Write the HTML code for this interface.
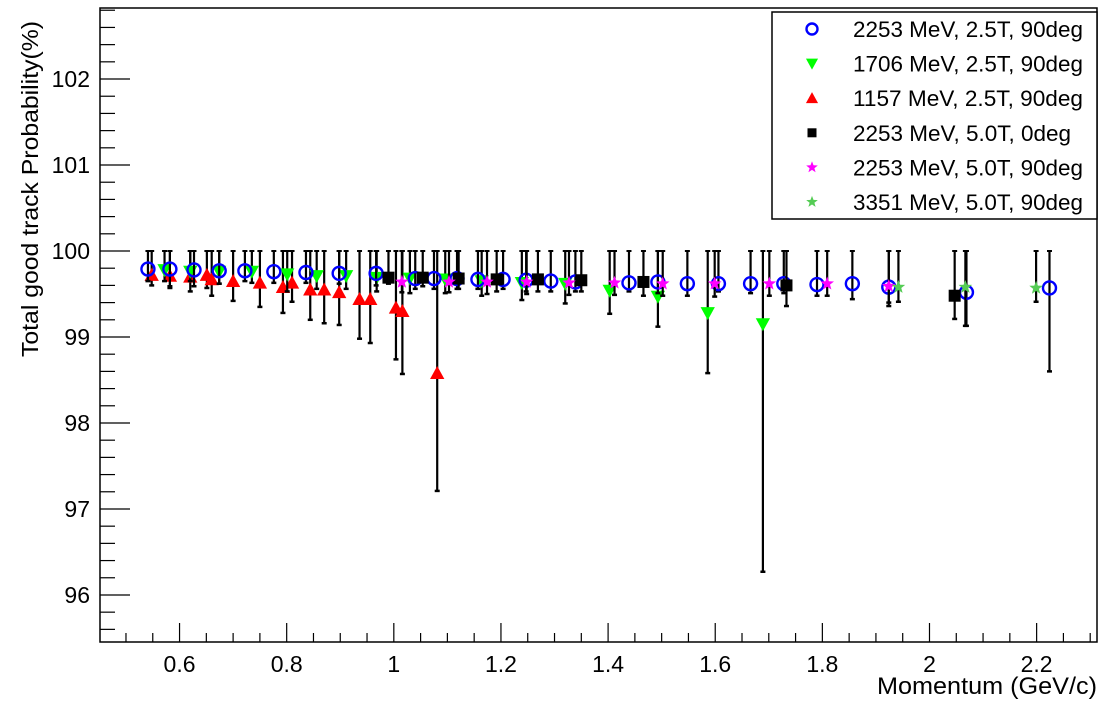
<!DOCTYPE html>
<html><head><meta charset="utf-8"><style>
html,body{margin:0;padding:0;background:#fff;}
svg{display:block;font-family:"Liberation Sans",Arial,sans-serif;}
</style></head><body>
<svg id="chart" width="1113" height="707" viewBox="0 0 1113 707">
<rect x="0" y="0" width="1113" height="707" fill="#fff"/>
<g id="axes"></g>
<g id="marks"></g>
<g id="legend"></g>
<text x="1097" y="694" text-anchor="end" font-size="24" textLength="220" lengthAdjust="spacingAndGlyphs">Momentum (GeV/c)</text>
<text transform="translate(38,189) rotate(-90)" text-anchor="middle" font-size="23" textLength="336" lengthAdjust="spacingAndGlyphs">Total good track Probability(%)</text>
</svg>
<script>
// tick labels
const xTicks = [0.6, 0.8, 1.0, 1.2, 1.4, 1.6, 1.8, 2.0, 2.2];
const xTickLabels = ["0.6","0.8","1","1.2","1.4","1.6","1.8","2","2.2"];
const yTicks = [96, 97, 98, 99, 100, 101, 102];
const yTickLabels = ["96","97","98","99","100","101","102"];
// series: [x, y, lowerErrorEnd]; upper error end is 100 for all
const blueCircles = [
[0.541,99.79,99.65],[0.582,99.79,99.59],[0.627,99.78,99.59],[0.674,99.77,99.62],[0.722,99.77,99.65],
[0.776,99.76,99.63],[0.836,99.75,99.63],[0.898,99.74,99.62],[0.967,99.74,99.60],[1.040,99.68,99.56],
[1.075,99.68,99.56],[1.118,99.68,99.56],[1.157,99.67,99.56],[1.204,99.67,99.56],[1.247,99.66,99.53],
[1.293,99.65,99.53],[1.339,99.64,99.53],[1.439,99.63,99.53],[1.493,99.64,99.51],[1.548,99.62,99.48],
[1.606,99.62,99.53],[1.666,99.62,99.51],[1.728,99.62,99.51],[1.790,99.61,99.48],[1.856,99.62,99.44],
[1.924,99.58,99.36],[2.069,99.52,99.13],[2.224,99.57,98.60]];
const greenTriangles = [
[0.572,99.78,99.65],[0.620,99.76,99.65],[0.674,99.76,99.62],[0.735,99.76,99.63],[0.801,99.73,99.53],
[0.856,99.71,99.56],[0.911,99.71,99.56],[0.968,99.69,99.53],[1.030,99.68,99.51],[1.096,99.67,99.51],
[1.164,99.65,99.48],[1.239,99.63,99.43],[1.320,99.62,99.39],[1.403,99.54,99.27],[1.493,99.47,99.12],
[1.586,99.28,98.58],[1.689,99.15,96.27]];
const redTriangles = [
[0.548,99.72,99.60],[0.582,99.71,99.57],[0.620,99.70,99.53],[0.651,99.72,99.57],[0.660,99.67,99.48],
[0.700,99.65,99.42],[0.750,99.63,99.35],[0.793,99.58,99.28],[0.810,99.63,99.41],[0.844,99.55,99.20],
[0.870,99.55,99.16],[0.898,99.52,99.14],[0.936,99.44,98.98],[0.956,99.44,98.93],[1.004,99.34,98.74],
[1.016,99.30,98.57],[1.081,98.58,97.21]];
const blackSquares = [
[0.990,99.69,99.62],[1.054,99.69,99.59],[1.121,99.68,99.56],[1.192,99.67,99.53],[1.269,99.67,99.53],
[1.350,99.66,99.53],[1.466,99.64,99.48],[1.733,99.60,99.36],[2.047,99.48,99.21]];
const magentaStars = [
[1.015,99.64,99.52],[1.103,99.64,99.52],[1.174,99.64,99.50],[1.248,99.64,99.50],[1.327,99.63,99.49],
[1.412,99.63,99.49],[1.502,99.62,99.48],[1.599,99.62,99.47],[1.701,99.62,99.48],[1.809,99.62,99.48],
[1.924,99.59,99.40]];
const lightGreenStars = [[1.942,99.58,99.41],[2.067,99.58,99.13],[2.199,99.57,99.41]];

const X0=100, X1=1097, Y0=8, Y1=642;
const xMin=0.4515, xMax=2.3127, yMin=95.453, yMax=102.826;
function sx(v){return X0+(v-xMin)/(xMax-xMin)*(X1-X0);}
function sy(v){return Y1-(v-yMin)/(yMax-yMin)*(Y1-Y0);}
const NS='http://www.w3.org/2000/svg';
function mk(tag,attrs,parent){const e=document.createElementNS(NS,tag);for(const k in attrs)e.setAttribute(k,attrs[k]);parent.appendChild(e);return e;}

const axes=document.getElementById('axes');
const frame=mk('rect',{x:X0,y:Y0,width:X1-X0,height:Y1-Y0,fill:'none',stroke:'#000','stroke-width':1.5},axes);


for(let v=0.5;v<=2.3001;v+=0.05){
  const major=Math.abs(v*5-Math.round(v*5))<1e-6;
  const t=mk('line',{x1:sx(v),x2:sx(v),y1:Y1,y2:Y1-(major?19:9),stroke:'#000','stroke-width':1.2},axes);
  
  
}
xTicks.forEach((v,i)=>{
  const t=mk('text',{x:sx(v),y:Y1+30,'text-anchor':'middle','font-size':23},axes);
  t.textContent=xTickLabels[i];
  
  
});
for(let v=95.6;v<=102.8001;v+=0.2){
  const major=Math.abs(v-Math.round(v))<1e-6;
  const t=mk('line',{x1:X0,x2:X0+(major?30:15),y1:sy(v),y2:sy(v),stroke:'#000','stroke-width':1.2},axes);
  
  
}
yTicks.forEach((v,i)=>{
  const t=mk('text',{x:X0-10,y:sy(v)+8,'text-anchor':'end','font-size':23},axes);
  t.textContent=yTickLabels[i];
  
  
});

function starPts(cx,cy,r){let p=[];for(let i=0;i<10;i++){const a=-Math.PI/2+i*Math.PI/5;const rr=i%2?r*0.42:r;p.push((cx+rr*Math.cos(a)).toFixed(1)+','+(cy+rr*Math.sin(a)).toFixed(1));}return p.join(' ');}
function marker(g,type,cx,cy,s){
  let e;
  if(type==='circle') e=mk('circle',{cx:cx,cy:cy,r:s*0.5,fill:'none',stroke:'#0000ff','stroke-width':2.4},g);
  else if(type==='down') e=mk('polygon',{points:`${cx-s*0.55},${cy-s*0.45} ${cx+s*0.55},${cy-s*0.45} ${cx},${cy+s*0.55}`,fill:'#00ff00'},g);
  else if(type==='up') e=mk('polygon',{points:`${cx-s*0.55},${cy+s*0.45} ${cx+s*0.55},${cy+s*0.45} ${cx},${cy-s*0.55}`,fill:'#ff0000'},g);
  else if(type==='square') e=mk('rect',{x:cx-s*0.5,y:cy-s*0.5,width:s,height:s,fill:'#000'},g);
  else if(type==='mstar') e=mk('polygon',{points:starPts(cx,cy,s*0.55),fill:'#ff00ff'},g);
  else e=mk('polygon',{points:starPts(cx,cy,s*0.55),fill:'#55cc55'},g);
  return e;
}
const marks=document.getElementById('marks');
const series=[
 ['red-triangles',redTriangles,'up'],
 ['green-triangles',greenTriangles,'down'],
 ['blue-circles',blueCircles,'circle'],
 ['black-squares',blackSquares,'square'],
 ['magenta-stars',magentaStars,'mstar'],
 ['light-green-stars',lightGreenStars,'gstar']];
const sizes={circle:13,down:13,up:13,square:12,mstar:13,gstar:13};
series.forEach(([name,data,type])=>{
  const g=mk('g',{},marks);
  
  
  data.forEach(d=>{
    const x=sx(d[0]);
    const eb=mk('line',{x1:x,x2:x,y1:sy(100),y2:sy(d[2]),stroke:'#000','stroke-width':2.2},g);
    
    
    const c1=mk('line',{x1:x-2.5,x2:x+2.5,y1:sy(100),y2:sy(100),stroke:'#000','stroke-width':2},g);
    
    
    const c2=mk('line',{x1:x-2.5,x2:x+2.5,y1:sy(d[2]),y2:sy(d[2]),stroke:'#000','stroke-width':2.5},g);
    
    
  });
  data.forEach(d=>{
    const m=marker(g,type,sx(d[0]),sy(d[1]),sizes[type]);
    
    
  });
});
const lg=document.getElementById('legend');
const box=mk('rect',{x:772,y:12,width:325,height:207,fill:'#fff',stroke:'#000','stroke-width':1.5},lg);


const labels=["2253 MeV, 2.5T, 90deg","1706 MeV, 2.5T, 90deg","1157 MeV, 2.5T, 90deg","2253 MeV, 5.0T, 0deg","2253 MeV, 5.0T, 90deg","3351 MeV, 5.0T, 90deg"];
const ltypes=['circle','down','up','square','mstar','gstar'];
const lwidths=[230,230,230,218,230,230];
labels.forEach((l,i)=>{
  const cy=29+i*34.6;
  const g=mk('g',{},lg);
  
  
  marker(g,ltypes[i],812,cy,ltypes[i]==='circle'?11:(ltypes[i]==='square'?9:11));
  const t=mk('text',{x:853,y:cy+8,'font-size':22,textLength:lwidths[i],lengthAdjust:'spacingAndGlyphs'},g);
  t.textContent=l;
});
</script>
</body></html>
